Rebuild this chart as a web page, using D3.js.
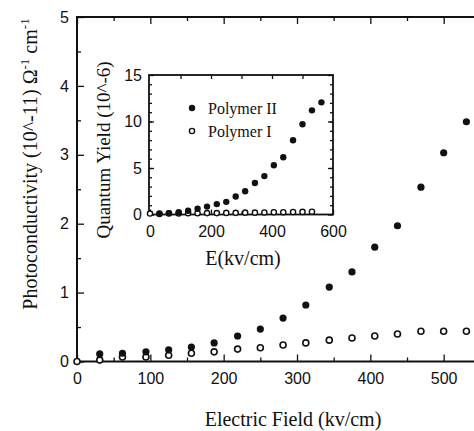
<!DOCTYPE html>
<html>
<head>
<meta charset="utf-8">
<script src="https://cdn.jsdelivr.net/npm/d3@7"></script>
<style>
  body { margin: 0; background: #fff; }
  svg { display: block; }
  .tick text { font-family: "Liberation Sans", Arial, sans-serif; font-size: 16px; fill: #111; }
  .tick line { stroke: #111; stroke-width: 1.3; }
  .title { font-family: "Liberation Serif", "Times New Roman", serif; fill: #111; }
</style>
</head>
<body>
<div id="main"></div>
<script>
// field values (kV/cm), point n = 0..18
var field = [0, 31, 62, 94, 125, 156, 187, 219, 250, 281, 312, 344, 375, 406, 437, 469, 500, 531, 562];

// main plot: photoconductivity (10^-11 ohm^-1 cm^-1)
var mainPoly2 = [null, 0.11, 0.12, 0.14, 0.17, 0.21, 0.27, 0.37, 0.47, 0.63, 0.82, 1.08, 1.30, 1.66, 1.97, 2.53, 3.03, 3.48];
var mainPoly1 = [0, 0.02, 0.065, 0.065, 0.09, 0.12, 0.14, 0.18, 0.20, 0.24, 0.27, 0.31, 0.34, 0.37, 0.40, 0.44, 0.44, 0.44];

// inset: quantum yield (10^-6)
var insetPoly2 = [null, 0.05, 0.15, 0.25, 0.4, 0.62, 0.85, 1.12, 1.36, 1.93, 2.5, 3.38, 4.13, 5.3, 6.16, 7.98, 9.7, 11.2, 12.06];
var insetPoly1 = [0.1, 0.1, 0.12, 0.12, 0.14, 0.14, 0.15, 0.15, 0.17, 0.18, 0.2, 0.2, 0.22, 0.24, 0.25, 0.27, 0.28, 0.3];

var mainXTicks = [0, 100, 200, 300, 400, 500, 600];
var mainXLabels = [0, 100, 200, 300, 400, 500];
var mainYTicks = [0, 1, 2, 3, 4, 5];
var insetXTicks = [0, 200, 400, 600];
var insetYTicks = [0, 5, 10, 15];
var legendNames = ["Polymer II", "Polymer I"];

var svg = d3.select('#main').append('svg')
            .attr('width', 474)
            .attr('height', 431);

function toPoints(vals) {
  var pts = [];
  vals.forEach(function (v, i) { if (v !== null) pts.push([field[i], v]); });
  return pts;
}

// ---------- main plot ----------
var x = d3.scaleLinear().domain([0, 600]).range([77, 517]);
var y = d3.scaleLinear().domain([0, 5]).range([361.5, 17]);

function ticks(lo, hi, step) { return d3.range(lo, hi + step / 2, step); }

svg.append('g').attr('transform', 'translate(0,361.5)')
   .call(d3.axisBottom(x).tickValues(ticks(50, 550, 100)).tickSize(-4).tickFormat(''));
svg.append('g').attr('transform', 'translate(0,361.5)')
   .call(d3.axisBottom(x).tickValues(mainXTicks).tickSize(-7).tickFormat(''));
svg.append('g').attr('transform', 'translate(0,361.5)')
   .call(d3.axisBottom(x).tickValues(mainXLabels).tickSize(0).tickPadding(11).tickFormat(d3.format('d')));
svg.append('g').attr('transform', 'translate(0,17)')
   .call(d3.axisTop(x).tickValues(ticks(50, 550, 100)).tickSize(-4).tickFormat(''));
svg.append('g').attr('transform', 'translate(0,17)')
   .call(d3.axisTop(x).tickValues(mainXTicks).tickSize(-7).tickFormat(''));
svg.append('g').attr('transform', 'translate(77,0)')
   .call(d3.axisLeft(y).tickValues(ticks(0.5, 4.5, 1)).tickSize(-4).tickFormat(''));
svg.append('g').attr('transform', 'translate(77,0)')
   .call(d3.axisLeft(y).tickValues(mainYTicks).tickSize(-7).tickPadding(8).tickFormat(d3.format('d')));
svg.selectAll('.domain').remove();

svg.append('rect')
   .attr('x', x(0)).attr('y', y(5))
   .attr('width', x(600) - x(0)).attr('height', y(0) - y(5))
   .attr('fill', 'none').attr('stroke', '#111').attr('stroke-width', 2);

svg.selectAll('.m1').data(toPoints(mainPoly1)).enter().append('circle')
   .attr('cx', function (d) { return x(d[0]); })
   .attr('cy', function (d) { return y(d[1]); })
   .attr('r', 3).attr('fill', '#fff').attr('stroke', '#111').attr('stroke-width', 1.6);
svg.selectAll('.m2').data(toPoints(mainPoly2)).enter().append('circle')
   .attr('cx', function (d) { return x(d[0]); })
   .attr('cy', function (d) { return y(d[1]); })
   .attr('r', 3.6).attr('fill', '#111');

svg.append('text').attr('class', 'title')
   .attr('x', 293).attr('y', 426)
   .attr('text-anchor', 'middle').attr('font-size', 20)
   .text('Electric Field (kv/cm)');

var yt = svg.append('text').attr('class', 'title')
   .attr('transform', 'translate(37,164) rotate(-90)')
   .attr('text-anchor', 'middle').attr('font-size', 20);
yt.append('tspan').text('Photoconductivity (10^-11) \u03A9');
yt.append('tspan').attr('font-size', 13).attr('dy', -8).text('-1');
yt.append('tspan').attr('dy', 8).text(' cm');
yt.append('tspan').attr('font-size', 13).attr('dy', -8).text('-1');

// ---------- inset ----------
var ix = d3.scaleLinear().domain([0, 600]).range([150, 333]);
var iy = d3.scaleLinear().domain([0, 15]).range([214.5, 75]);

var inset = svg.append('g');
inset.append('rect')
     .attr('x', 149).attr('y', iy(15))
     .attr('width', ix(600) - 149).attr('height', iy(0) - iy(15))
     .attr('fill', '#fff');

inset.append('g').attr('transform', 'translate(0,214.5)')
     .call(d3.axisBottom(ix).tickValues(ticks(100, 500, 200)).tickSize(-3).tickFormat(''));
inset.append('g').attr('transform', 'translate(0,214.5)')
     .call(d3.axisBottom(ix).tickValues(insetXTicks).tickSize(-5).tickPadding(11).tickFormat(d3.format('d')));
inset.append('g').attr('transform', 'translate(0,75)')
     .call(d3.axisTop(ix).tickValues(ticks(100, 500, 100)).tickSize(-4).tickFormat(''));
inset.append('g').attr('transform', 'translate(149,0)')
     .call(d3.axisLeft(iy).tickValues(ticks(1, 14, 1)).tickSize(-3).tickFormat(''));
inset.append('g').attr('transform', 'translate(149,0)')
     .call(d3.axisLeft(iy).tickValues(insetYTicks).tickSize(-5).tickPadding(7).tickFormat(d3.format('d')));
inset.append('g').attr('transform', 'translate(333,0)')
     .call(d3.axisRight(iy).tickValues(ticks(1, 14, 1)).tickSize(-3).tickFormat(''));
inset.append('g').attr('transform', 'translate(333,0)')
     .call(d3.axisRight(iy).tickValues(insetYTicks).tickSize(-5).tickFormat(''));
inset.selectAll('.domain').remove();

inset.append('rect')
     .attr('x', 149).attr('y', iy(15))
     .attr('width', ix(600) - 149).attr('height', iy(0) - iy(15))
     .attr('fill', 'none').attr('stroke', '#111').attr('stroke-width', 1.8);

inset.selectAll('.i1').data(toPoints(insetPoly1)).enter().append('circle')
     .attr('cx', function (d) { return ix(d[0]); })
     .attr('cy', function (d) { return iy(d[1]); })
     .attr('r', 2.6).attr('fill', '#fff').attr('stroke', '#111').attr('stroke-width', 1.4);
inset.selectAll('.i2').data(toPoints(insetPoly2)).enter().append('circle')
     .attr('cx', function (d) { return ix(d[0]); })
     .attr('cy', function (d) { return iy(d[1]); })
     .attr('r', 3.2).attr('fill', '#111');

// legend
var leg = inset.selectAll('.leg').data(legendNames).enter().append('g')
     .attr('transform', function (d, i) { return 'translate(192,' + (108 + i * 23) + ')'; });
leg.append('circle').attr('r', function (d, i) { return i ? 2.6 : 3.2; })
   .attr('fill', function (d, i) { return i ? '#fff' : '#111'; })
   .attr('stroke', '#111').attr('stroke-width', function (d, i) { return i ? 1.4 : 0; });
leg.append('text').attr('class', 'title')
   .attr('x', 16).attr('y', 5.5).attr('font-size', 16)
   .text(function (d) { return d; });

inset.append('text').attr('class', 'title')
     .attr('x', 243).attr('y', 265)
     .attr('text-anchor', 'middle').attr('font-size', 20)
     .text('E(kv/cm)');
inset.append('text').attr('class', 'title')
     .attr('transform', 'translate(110,150) rotate(-90)')
     .attr('text-anchor', 'middle').attr('font-size', 19)
     .text('Quantum Yield (10^-6)');
</script>
</body>
</html>
